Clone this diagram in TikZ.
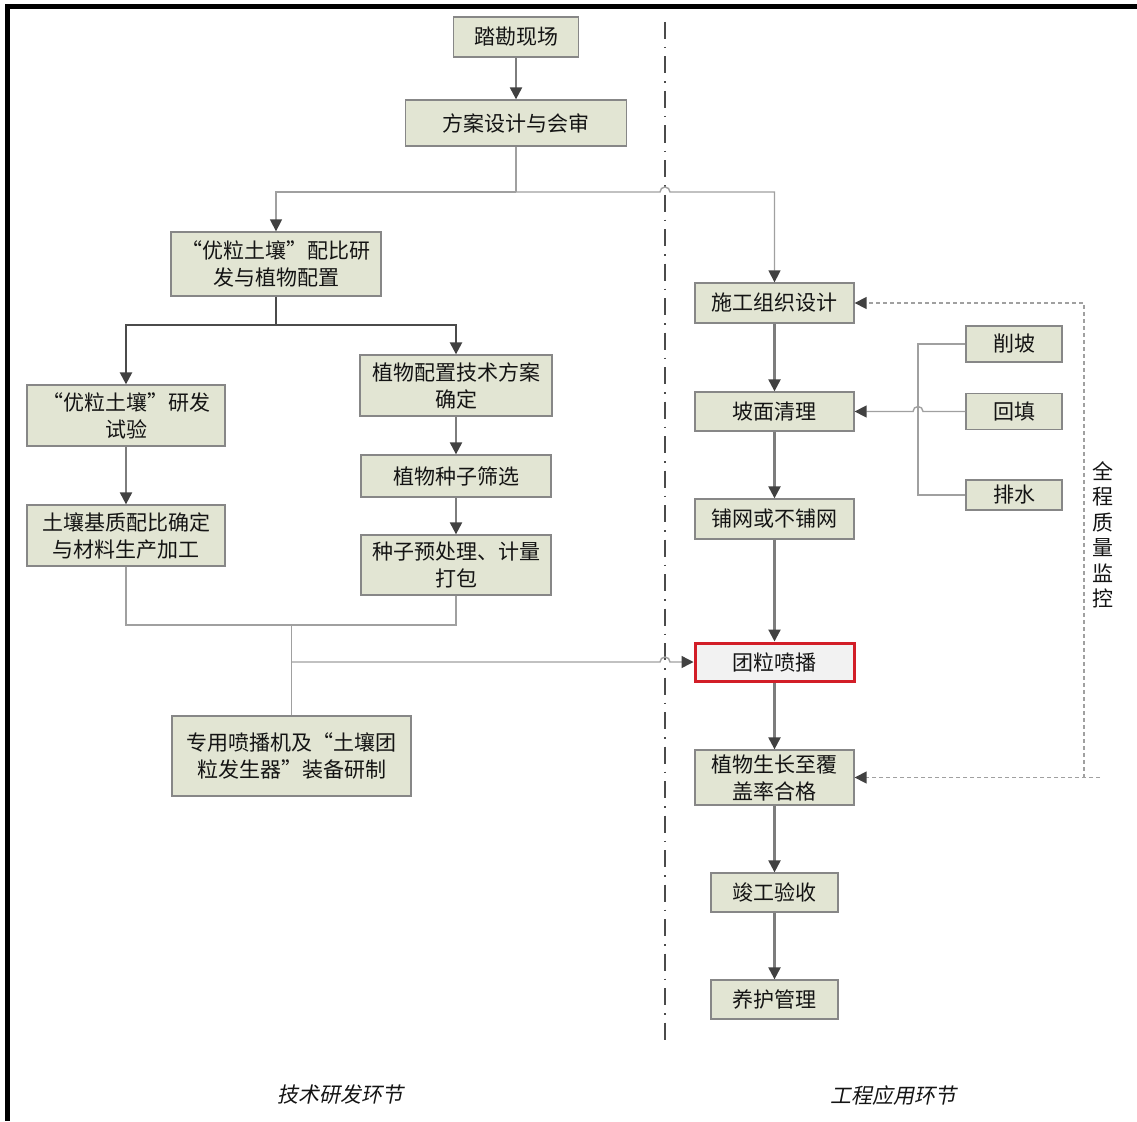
\documentclass[tikz,border=0pt]{standalone}
\usepackage{fontspec}
\setmainfont{Noto Sans CJK SC}
\newfontfamily\cjkit[FakeSlant=0.2]{Noto Sans CJK SC}
\usetikzlibrary{arrows.meta}
\definecolor{boxfill}{RGB}{226,229,211}
\definecolor{boxline}{RGB}{135,135,135}
\definecolor{txt}{RGB}{20,20,20}
\definecolor{linec}{RGB}{125,125,125}
\definecolor{lightc}{RGB}{160,160,160}
\definecolor{darkc}{RGB}{75,75,75}
\definecolor{arrc}{RGB}{65,65,65}
\definecolor{redc}{RGB}{210,30,40}
\definecolor{redfill}{RGB}{242,242,242}
\tikzset{
  box/.style={draw=boxline, fill=boxfill, line width=1.3pt, inner sep=0pt, align=center, text=txt, font=\fontsize{21}{27}\selectfont},
  redbox/.style={box, draw=redc, fill=redfill, line width=3pt},
  conn/.style={draw=linec, line width=2.2pt},
  thin/.style={draw=lightc, line width=1.4pt},
  thick/.style={draw=darkc, line width=2.4pt},
  arrow/.style={-{Triangle[width=12pt,length=12pt,color=arrc]}},
  dsh/.style={draw=lightc, line width=1.4pt, dash pattern=on 4pt off 3pt},
  dashdotline/.style={draw=darkc, line width=1.8pt, dash pattern=on 17pt off 8pt on 1.5pt off 8pt},
  label/.style={text=txt, font=\fontsize{21}{27}\selectfont}
}
\begin{document}
\begin{tikzpicture}[x=1pt,y=-1pt]
\useasboundingbox (0,0) rectangle (1137,1121);
\fill[white] (0,0) rectangle (1137,1121);
% frame
\fill[black] (5,4) rectangle (1137,9);
\fill[black] (5,4) rectangle (10,1121);

% divider
\draw[dashdotline] (665,22) -- (665,1040);

% left column nodes
\node[box, minimum width=125pt, minimum height=40pt] (tak) at (516,37) {踏勘现场};
\node[box, minimum width=221pt, minimum height=46pt] (fangan) at (516,123) {方案设计与会审};
\node[box, minimum width=210pt, minimum height=64pt] (peibi) at (276,264) {“优粒土壤”配比研\\发与植物配置};
\node[box, minimum width=198pt, minimum height=61pt] (yanfa) at (126,415.5) {“优粒土壤”研发\\试验};
\node[box, minimum width=198pt, minimum height=61pt] (jizhi) at (126,535.5) {土壤基质配比确定\\与材料生产加工};
\node[box, minimum width=192pt, minimum height=61pt] (jishu) at (456,385.5) {植物配置技术方案\\确定};
\node[box, minimum width=190pt, minimum height=42pt] (shaixuan) at (456,476) {植物种子筛选};
\node[box, minimum width=190pt, minimum height=60pt] (yuchuli) at (456,565) {种子预处理、计量\\打包};
\node[box, minimum width=239pt, minimum height=80pt] (zhuangbei) at (291.5,756) {专用喷播机及“土壤团\\粒发生器”装备研制};

% right column nodes
\node[box, minimum width=159pt, minimum height=40pt] (shigong) at (774.5,303) {施工组织设计};
\node[box, minimum width=159pt, minimum height=39pt] (qingli) at (774.5,411.5) {坡面清理};
\node[box, minimum width=159pt, minimum height=40pt] (puwang) at (774.5,519) {铺网或不铺网};
\node[redbox, minimum width=159pt, minimum height=38pt] (penbo) at (774.5,662) {团粒喷播};
\node[box, minimum width=159pt, minimum height=55pt] (shengzhang) at (774.5,777.5) {植物生长至覆\\盖率合格};
\node[box, minimum width=127pt, minimum height=39pt] (jungong) at (774.5,892.5) {竣工验收};
\node[box, minimum width=127pt, minimum height=39pt] (yanghu) at (774.5,999.5) {养护管理};
\node[box, minimum width=96pt, minimum height=36pt] (xiepo) at (1014,344) {削坡};
\node[box, minimum width=96pt, minimum height=36pt] (huitian) at (1014,411.5) {回填};
\node[box, minimum width=96pt, minimum height=30pt] (paishui) at (1014,495) {排水};

% side labels
\node[label, align=center, font=\fontsize{21}{25.5}\selectfont] (qc) at (1103,535) {全\\程\\质\\量\\监\\控};
\node[label, font=\cjkit\fontsize{21}{27}\selectfont] (lab1) at (340,1095) {技术研发环节};
\node[label, font=\cjkit\fontsize{21}{27}\selectfont] (lab2) at (893,1095) {工程应用环节};

% connectors: top
\draw[conn, arrow] (tak) -- (fangan);
\coordinate (j1) at (516,192);
\draw[thin] (fangan.south) -- (j1);
\draw[thin, arrow] (j1) -| (peibi.north);
\draw[thin, arrow] (j1) -- (660,192) arc[start angle=180, end angle=0, radius=5pt] -- (774.5,192) -- (shigong.north);

% branch from peibi
\coordinate (j2) at (276,325);
\draw[thick] (peibi.south) -- (j2);
\draw[thick, arrow] (j2) -| (yanfa.north);
\draw[thick, arrow] (j2) -| (jishu.north);

\draw[conn, arrow] (yanfa) -- (jizhi);
\draw[conn, arrow] (jishu) -- (shaixuan);
\draw[conn, arrow] (shaixuan) -- (yuchuli);

% merge
\coordinate (m1) at (126,625);
\coordinate (m2) at (456,625);
\coordinate (m3) at (291.5,625);
\coordinate (m4) at (291.5,662);
\draw[thin] (jizhi.south) -- (m1) -- (m2) -- (yuchuli.south);
\draw[thin] (m3) -- (zhuangbei.north);
\draw[thin, arrow] (m4) -- (660,662) arc[start angle=180, end angle=0, radius=5pt] -- (penbo.west);

% right column
\draw[conn, arrow] (shigong) -- (qingli);
\draw[conn, arrow] (qingli) -- (puwang);
\draw[conn, arrow] (puwang) -- (penbo);
\draw[conn, arrow] (penbo) -- (shengzhang);
\draw[conn, arrow] (shengzhang) -- (jungong);
\draw[conn, arrow] (jungong) -- (yanghu);

% sub branch
\coordinate (b1) at (918,344);
\coordinate (b2) at (918,495);
\draw[thin] (xiepo.west) -- (b1) -- (b2) -- (paishui.west);
\draw[thin, arrow] (huitian.west) -- (923,411.5) arc[start angle=0, end angle=180, radius=5pt] -- (qingli.east);

% quality monitoring dashed
\coordinate (d1) at (1084,303);
\coordinate (d2) at (1084,777.5);
\coordinate (d3) at (1100,777.5);
\draw[dsh, arrow] (d2) -- (d1) -- (shigong.east);
\draw[dsh, arrow] (d3) -- (shengzhang.east);
\end{tikzpicture}
\end{document}
